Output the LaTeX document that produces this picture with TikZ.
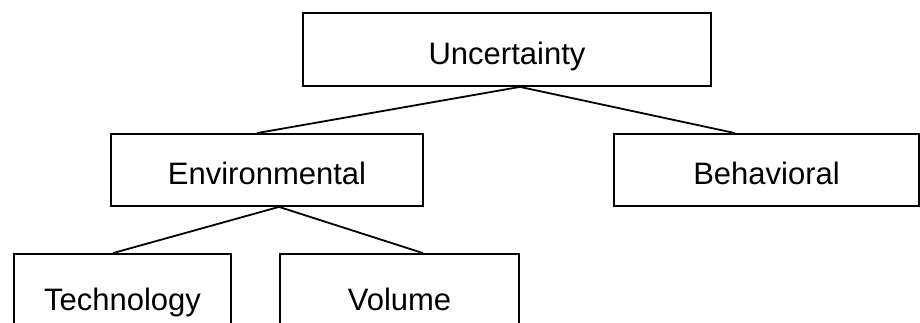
\documentclass[tikz,border=0pt]{standalone}
\usepackage{fontspec}
\setmainfont{Liberation Sans}
\begin{document}
\begin{tikzpicture}[x=1pt,y=-1pt,
  box/.style={draw=black,line width=1.8pt,inner sep=0pt,
    text height=30pt,text depth=0pt,
    font=\fontsize{31}{36}\selectfont},
  link/.style={draw=black,line width=1.8pt}]
\useasboundingbox (0,0) rectangle (920,323);
\node[box,minimum width=408pt,minimum height=73pt] (u) at (507,49.5) {Uncertainty};
\node[box,minimum width=312pt,minimum height=72pt] (env) at (267,170) {Environmental};
\node[box,minimum width=305pt,minimum height=72pt] (beh) at (766.5,170) {Behavioral};
\node[box,minimum width=217pt,minimum height=82pt] (tech) at (122.5,295) {Technology};
\node[box,minimum width=239pt,minimum height=82pt] (vol) at (399.5,295) {Volume};
\draw[link] ([xshift=13pt]u.south) -- ([xshift=-10pt]env.north);
\draw[link] ([xshift=13pt]u.south) -- ([xshift=-31.5pt]beh.north);
\draw[link] ([xshift=12pt]env.south) -- ([xshift=-9.5pt]tech.north);
\draw[link] ([xshift=12pt]env.south) -- ([xshift=23.5pt]vol.north);
\end{tikzpicture}
\end{document}
